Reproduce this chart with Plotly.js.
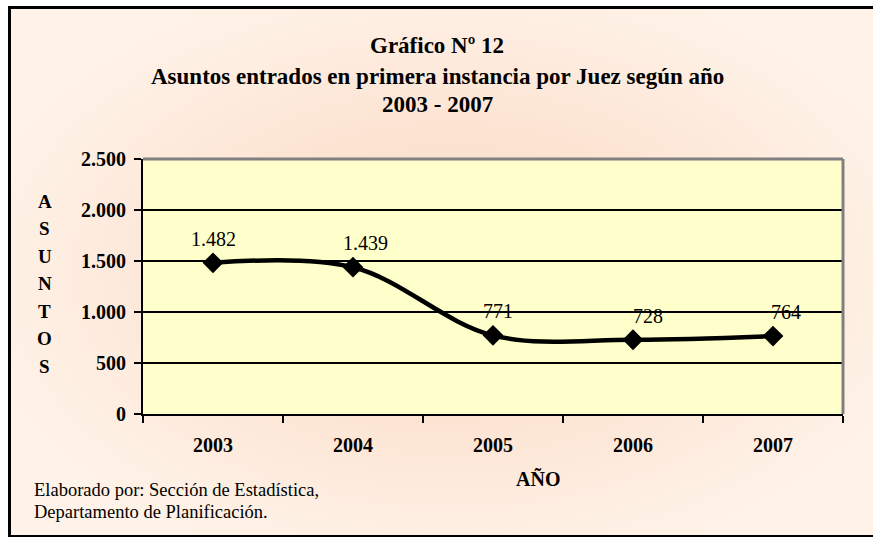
<!DOCTYPE html>
<html>
<head>
<meta charset="utf-8">
<script src="https://cdn.plot.ly/plotly-3.0.1.min.js"></script>
<style>
  html, body { margin: 0; padding: 0; background: #ffffff; }
  #wrap { position: relative; width: 873px; height: 537px; overflow: hidden; background: #ffffff; }
  #bg { position: absolute; left: 8px; top: 6px; width: 880px; height: 526px;
        border-left: 3px solid #000; border-top: 3px solid #000; border-bottom: 3px solid #000;
        background: radial-gradient(ellipse 60% 62% at 50% 50%, #FADBC3 0%, #FCE4D3 45%, #FEEFE3 80%, #FFF3E9 100%); }
  #chart { position: absolute; left: 0; top: 0; width: 873px; height: 537px; }
</style>
</head>
<body>
<div id="wrap">
  <div id="bg"></div>
  <div id="chart"></div>
</div>
<script>
const years = ["2003", "2004", "2005", "2006", "2007"];
const asuntos = [1482, 1439, 771, 728, 764];
const yTicks = [0, 500, 1000, 1500, 2000, 2500];
const titleLines = ["Gráfico Nº 12", "Asuntos entrados en primera instancia por Juez según año", "2003 - 2007"];
const yTitle = "ASUNTOS";
const xTitle = "AÑO";
const footer = ["Elaborado por: Sección de Estadística,", "Departamento de Planificación."];

const serif = "Liberation Serif";
function fmt(v) { return String(v).replace(/\B(?=(\d{3})+(?!\d))/g, "."); }

// plot area in pixels
const PL = 143, PR = 843, PT = 159, PB = 414;
const px = x => (x - PL) / (PR - PL);
const py = y => (PB - y) / (PB - PT);

const labelShift = [0, 12, 5, 15, 13];
const annotations = [];
asuntos.forEach((v, i) => {
  annotations.push({
    x: i, y: v, xref: "x", yref: "y", text: fmt(v), showarrow: false,
    xanchor: "center", yanchor: "bottom", yshift: 11, xshift: labelShift[i],
    font: { family: serif, size: 20, color: "#000" }
  });
});
const titleY = [45, 76, 104];
titleLines.forEach((t, i) => {
  annotations.push({
    x: px(437), y: py(titleY[i]), xref: "paper", yref: "paper", text: "<b>" + t + "</b>",
    showarrow: false, xanchor: "center", yanchor: "middle",
    font: { family: serif, size: 23, color: "#000" }
  });
});
yTitle.split("").forEach((ch, i) => {
  annotations.push({
    x: px(45), y: py(201 + i * 27.5), xref: "paper", yref: "paper",
    text: "<b>" + ch + "</b>", showarrow: false, xanchor: "center", yanchor: "middle",
    font: { family: serif, size: 19, color: "#000" }
  });
});
annotations.push({
  x: px(538), y: py(479), xref: "paper", yref: "paper",
  text: "<b>" + xTitle + "</b>", showarrow: false, xanchor: "center", yanchor: "middle",
  font: { family: serif, size: 20, color: "#000" }
});
footer.forEach((t, i) => {
  annotations.push({
    x: px(32), y: py(490 + i * 22), xref: "paper", yref: "paper",
    text: t, showarrow: false, xanchor: "left", yanchor: "middle",
    font: { family: serif, size: 18.5, color: "#000" }
  });
});

const trace = {
  x: years, y: asuntos, type: "scatter", mode: "lines+markers",
  line: { color: "#000", width: 4.5, shape: "spline", smoothing: 1 },
  marker: { symbol: "diamond", size: 16, color: "#000" },
  hoverinfo: "skip", cliponaxis: false
};

const layout = {
  width: 873, height: 537,
  margin: { l: PL, r: 873 - PR, t: PT, b: 537 - PB, pad: 0 },
  paper_bgcolor: "rgba(0,0,0,0)",
  plot_bgcolor: "#FFFFCC",
  separators: ",.",
  showlegend: false,
  font: { family: serif },
  xaxis: {
    type: "category", range: [-0.5, 4.5], tickson: "boundaries",
    ticks: "outside", ticklen: 7, tickwidth: 2, tickcolor: "#000",
    showline: true, linecolor: "#000", linewidth: 2, showgrid: false,
    ticklabelstandoff: 12,
    tickfont: { family: serif, size: 20, color: "#000" },
    tickprefix: "<b>", ticksuffix: "</b>", fixedrange: true
  },
  yaxis: {
    range: [0, 2500], tickvals: yTicks, ticktext: yTicks.map(v => "<b>" + fmt(v) + "</b>"),
    ticks: "outside", ticklen: 7, tickwidth: 2, tickcolor: "#000",
    showline: true, linecolor: "#000", linewidth: 2,
    showgrid: true, gridcolor: "#000", gridwidth: 2, zeroline: false,
    ticklabelstandoff: 4,
    tickfont: { family: serif, size: 20, color: "#000" }, fixedrange: true
  },
  shapes: [
    { type: "line", xref: "paper", yref: "paper", x0: 0, x1: 1, y0: 1, y1: 1, line: { color: "#808080", width: 3 }, layer: "above" },
    { type: "line", xref: "paper", yref: "paper", x0: 1, x1: 1, y0: 0, y1: 1, line: { color: "#808080", width: 3 }, layer: "above" }
  ],
  annotations: annotations
};

Plotly.newPlot("chart", [trace], layout, { displayModeBar: false, staticPlot: true });
</script>
</body>
</html>
